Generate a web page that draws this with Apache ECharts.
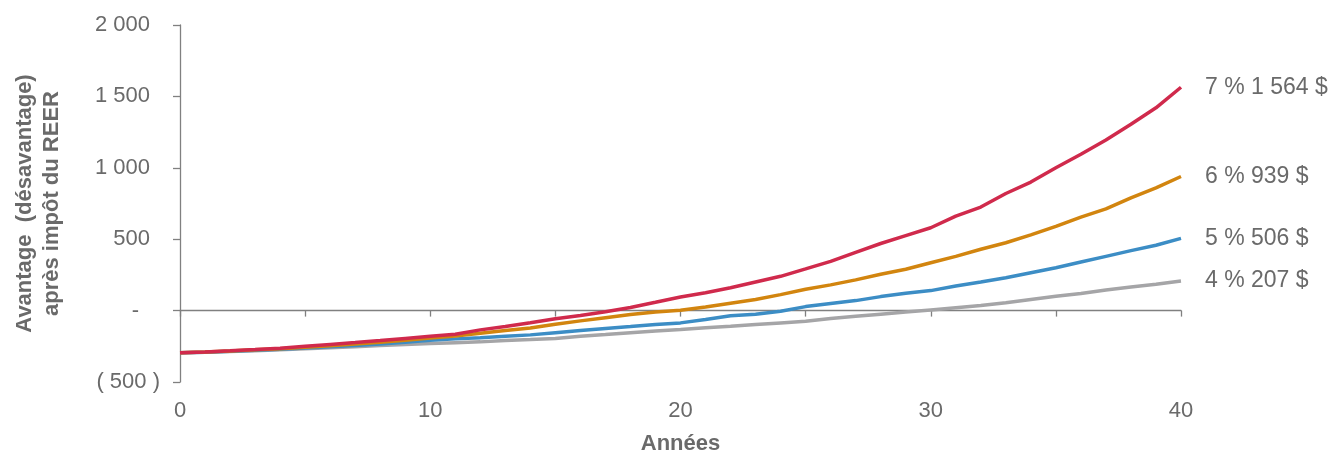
<!DOCTYPE html>
<html>
<head>
<meta charset="utf-8">
<script src="https://cdn.jsdelivr.net/npm/echarts@6/dist/echarts.min.js"></script>
<style>
  html, body { margin: 0; padding: 0; background: #fff; }
  #chart { width: 1335px; height: 455px; }
</style>
</head>
<body>
<div id="chart"></div>
<script>
// Years since contribution
const years = Array.from({ length: 41 }, (_, i) => i);

// Rate-of-return labels for each curve
const rates = ['4 %', '5 %', '6 %', '7 %'];
const colors = ['#a5a5a7', '#3c8dc5', '#d2850f', '#d02a4c'];

// After-tax RRSP advantage (disadvantage), $, per year
const r4 = [-295, -292, -287, -281, -274, -267, -260, -253, -245, -238,
  -231, -225, -219, -210, -203, -195, -180, -168, -155, -143,
  -133, -120, -110, -98, -86, -75, -55, -40, -25, -10,
  5, 20, 35, 55, 78, 100, 120, 145, 165, 185, 207];
const r5 = [-295, -291, -285, -278, -270, -262, -253, -244, -234, -222,
  -208, -198, -190, -180, -170, -155, -140, -125, -112, -98,
  -86, -62, -36, -25, -5, 28, 50, 70, 98, 122,
  140, 172, 200, 230, 265, 300, 340, 380, 420, 458, 506];
const r6 = [-295, -290, -283, -275, -267, -257, -246, -234, -222, -207,
  -192, -178, -158, -140, -122, -95, -72, -50, -28, -10,
  3, 25, 52, 78, 112, 150, 180, 215, 255, 290,
  335, 380, 430, 475, 530, 590, 655, 712, 790, 860, 939];
const r7 = [-295, -290, -282, -273, -263, -250, -237, -224, -210, -195,
  -180, -165, -135, -112, -85, -57, -35, -8, 22, 58,
  95, 125, 160, 200, 240, 292, 345, 408, 470, 525,
  580, 662, 725, 820, 900, 1000, 1095, 1195, 1305, 1420, 1564];

const seriesValues = [r4, r5, r6, r7];

// Y tick labels
const yTickLabels = { '2000': '2 000', '1500': '1 500', '1000': '1 000', '500': '500', '0': '-', '-500': '( 500 )' };

const textColor = '#6a6a6a';
const axisColor = '#808080';
const font = 'Liberation Sans, Arial, sans-serif';

function fmtThousands(v) {
  return String(Math.round(v)).replace(/\B(?=(\d{3})+(?!\d))/g, ' ');
}

const chart = echarts.init(document.getElementById('chart'), null, { renderer: 'canvas' });

const series = seriesValues.map((vals, i) => ({
  name: rates[i],
  type: 'line',
  xAxisIndex: 1,
  data: years.map((y, k) => [y, vals[k]]),
  showSymbol: false,
  symbol: 'none',
  smooth: false,
  lineStyle: { color: colors[i], width: 3.5 },
  itemStyle: { color: colors[i] },
  z: 2 + i,
  endLabel: {
    show: true,
    distance: 24,
    color: textColor,
    fontFamily: font,
    fontSize: 23,
    formatter: () => rates[i] + ' ' + fmtThousands(vals[vals.length - 1]) + ' $'
  }
}));

chart.setOption({
  animation: false,
  backgroundColor: '#fff',
  grid: { left: 180, right: 154, top: 25, bottom: 73, containLabel: false, outerBoundsMode: 'none' },
  xAxis: [
    {
      // bottom labels only
      type: 'value',
      position: 'bottom',
      min: 0, max: 40, interval: 10,
      axisLine: { show: false, onZero: false },
      axisTick: { show: false },
      splitLine: { show: false },
      axisLabel: { color: textColor, fontFamily: font, fontSize: 22, margin: 18 },
      name: 'Années',
      nameLocation: 'middle',
      nameGap: 51,
      nameTextStyle: { color: textColor, fontFamily: font, fontSize: 22, fontWeight: 'bold' }
    },
    {
      // line through zero with ticks every 5 years
      type: 'value',
      position: 'top',
      min: 0, max: 40, interval: 5,
      axisLine: { show: true, onZero: true, lineStyle: { color: axisColor, width: 1.3 } },
      axisTick: { show: true, inside: true, length: 6, lineStyle: { color: axisColor, width: 1.3 } },
      axisLabel: { show: false },
      splitLine: { show: false }
    }
  ],
  yAxis: {
    type: 'value',
    min: -500, max: 2000, interval: 500,
    axisLine: { show: true, onZero: false, lineStyle: { color: axisColor, width: 1.3 } },
    axisTick: { show: true, length: 7, lineStyle: { color: axisColor, width: 1.3 } },
    splitLine: { show: false },
    axisLabel: {
      color: textColor, fontFamily: font, fontSize: 22, margin: 20,
      formatter: (v) => {
        const t = yTickLabels[String(v)];
        if (t === undefined) return '';
        if (v < 0) return '{t|' + t + '}';
        if (v === 0) return '{t|' + t + '}{z|}';
        return '{t|' + t + '}{p|}';
      },
      rich: {
        t: { color: textColor, fontFamily: font, fontSize: 22 },
        p: { width: 10 },
        z: { width: 21 }
      }
    },
    name: 'Avantage  (désavantage)\naprès impôt du REER',
    nameLocation: 'middle',
    nameGap: 115,
    nameRotate: 90,
    nameTextStyle: { color: textColor, fontFamily: font, fontSize: 22, fontWeight: 'bold', lineHeight: 27 }
  },
  series: series
});
</script>
</body>
</html>
